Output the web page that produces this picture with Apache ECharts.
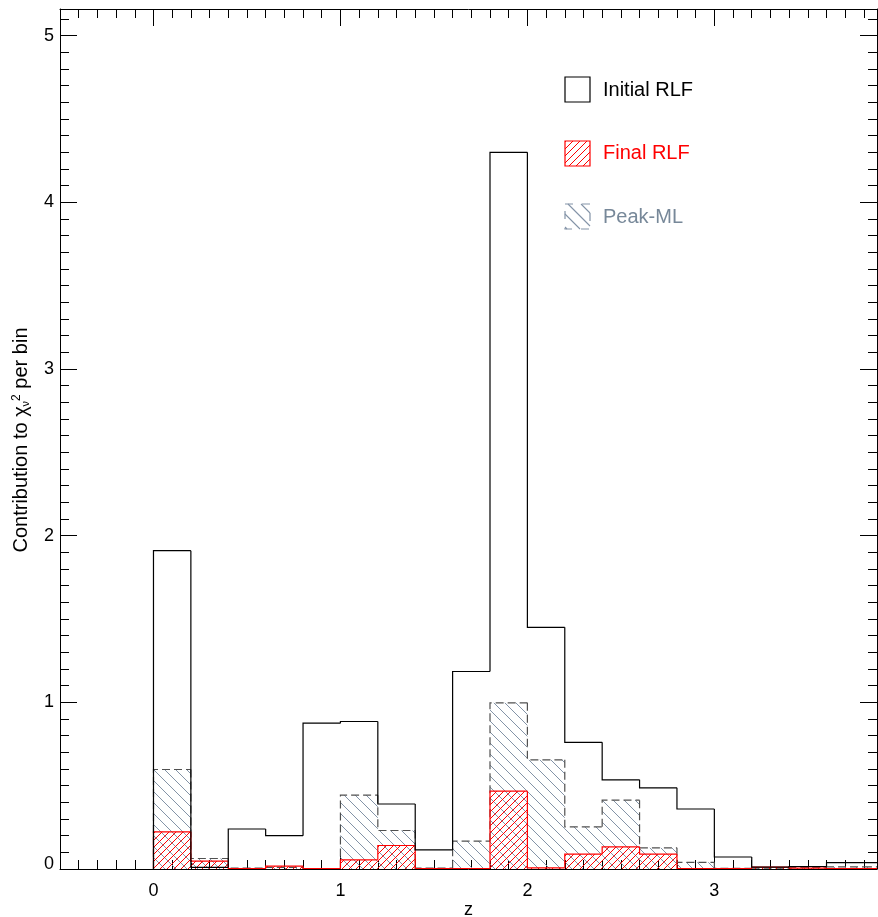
<!DOCTYPE html>
<html>
<head>
<meta charset="utf-8">
<script src="https://cdn.jsdelivr.net/npm/echarts@6/dist/echarts.min.js"></script>
<style>
  html, body { margin: 0; padding: 0; background: #fff; }
  #chart { width: 878px; height: 917px; }
</style>
</head>
<body>
<div id="chart"></div>
<script>
// Redshift bins: lower edges, each 0.2 wide
const binStarts = [0.0, 0.2, 0.4, 0.6, 0.8, 1.0, 1.2, 1.4, 1.6, 1.8,
                   2.0, 2.2, 2.4, 2.6, 2.8, 3.0, 3.2, 3.4, 3.6, 3.8];
const binWidth = 0.2;

// Contribution to reduced chi-square per bin
const initialRLF = [1.91, 0.01, 0.24, 0.20, 0.875, 0.885, 0.39, 0.115, 1.185, 4.30,
                    1.45, 0.76, 0.535, 0.487, 0.36, 0.072, 0.011, 0.015, 0.038, 0.038];
const finalRLF   = [0.223, 0.047, 0.003, 0.017, 0.003, 0.055, 0.141, 0.003, 0.003, 0.467,
                    0.007, 0.089, 0.133, 0.089, 0.003, 0.003, 0.011, 0.005, 0.003, 0.003];
const peakML     = [0.597, 0.063, 0.005, 0.010, 0.003, 0.443, 0.231, 0.005, 0.167, 0.997,
                    0.655, 0.253, 0.413, 0.127, 0.040, 0.004, 0.005, 0.010, 0.013, 0.013];

const seriesNames = ['Initial RLF', 'Final RLF', 'Peak-ML'];
const xMajorTicks = [0, 1, 2, 3];
const yMajorTicks = [0, 1, 2, 3, 4, 5];
const xRange = [-0.5, 3.87];
const yRange = [0, 5.16];

// minor ticks every 0.1 between the labelled ones
function minorTicks(lo, hi) {
  const out = [];
  for (let k = Math.ceil(lo * 10); k <= Math.floor(hi * 10); k++) {
    if (k % 10 !== 0) out.push(k / 10);
  }
  return out;
}
const xMinorTicks = minorTicks(xRange[0], xRange[1]);
const yMinorTicks = minorTicks(yRange[0], yRange[1]);

const FONT = '"Liberation Sans", Arial, Helvetica, sans-serif';
const RED = 'rgb(255,0,0)';
const SLATE = '#8393a7';
const SLATE_TEXT = '#778899';
const DASH_GREY = '#505050';

// 45-degree hatch segments inside a pixel rectangle, anchored to the canvas
// so neighbouring bins line up; '/' runs up-right, '\' runs down-right
function hatchSegments(x0, y0, x1, y1, spacing, dir) {
  const segs = [];
  if (dir === '/') {
    for (let c = Math.ceil((x0 + y0) / spacing) * spacing; c <= x1 + y1; c += spacing) {
      const xa = Math.max(x0, c - y1), xb = Math.min(x1, c - y0);
      if (xb > xa) segs.push([xa, c - xa, xb, c - xb]);
    }
  } else {
    for (let c = Math.ceil((y0 - x1) / spacing) * spacing; c <= y1 - x0; c += spacing) {
      const xa = Math.max(x0, y0 - c), xb = Math.min(x1, y1 - c);
      if (xb > xa) segs.push([xa, xa + c, xb, xb + c]);
    }
  }
  return segs;
}

// [left edge, right edge, value, previous bin value, is last bin]
function histData(values) {
  return values.map((v, i) => [
    binStarts[i], binStarts[i] + binWidth, v,
    i === 0 ? 0 : values[i - 1], i === values.length - 1 ? 1 : 0
  ]);
}

function stepRenderer(stroke, lineDash, lineWidth, hatch) {
  return function (params, api) {
    const x0 = api.value(0), x1 = api.value(1), v = api.value(2);
    const pv = api.value(3), last = api.value(4);
    const base = api.coord([x0, 0]);
    const top = api.coord([x1, v]);
    const prev = api.coord([x0, pv]);
    const children = [];
    if (hatch) {
      hatchSegments(base[0], top[1], top[0], base[1], hatch.spacing, hatch.dir).forEach(s => {
        children.push({
          type: 'line', silent: true,
          shape: { x1: s[0], y1: s[1], x2: s[2], y2: s[3] },
          style: { stroke: hatch.color, lineWidth: hatch.width, opacity: 1 }
        });
      });
    }
    const pts = [[base[0], prev[1]], [base[0], top[1]], [top[0], top[1]]];
    if (last) pts.push([top[0], base[1]]);
    children.push({
      type: 'polyline', silent: true,
      shape: { points: pts },
      style: { stroke: stroke, lineWidth: lineWidth, lineDash: lineDash, fill: null }
    });
    return { type: 'group', children: children };
  };
}

function histSeries(name, values, stroke, dash, lw, hatch, z) {
  return {
    type: 'custom', name: name, xAxisIndex: 0, yAxisIndex: 0,
    clip: true, z: z,
    encode: { x: [0, 1], y: [2, 3] },
    data: histData(values),
    renderItem: stepRenderer(stroke, dash, lw, hatch)
  };
}

const redHatch = { spacing: 7, dir: '/', color: RED, width: 1 };
const greyHatch = { spacing: 11, dir: '\\', color: SLATE, width: 1 };

function xAxisDef(grid, pos, ticks, len, withLine, withLabel) {
  return {
    type: 'value', gridIndex: grid, position: pos,
    min: xRange[0], max: xRange[1],
    splitLine: { show: false },
    axisLine: { show: withLine, onZero: false, lineStyle: { color: '#000', width: 1 } },
    axisTick: { show: true, inside: true, length: len, customValues: ticks,
                lineStyle: { color: '#000', width: 1 } },
    axisLabel: withLabel
      ? { show: true, customValues: xMajorTicks, fontSize: 18, color: '#000', fontFamily: FONT, margin: 13 }
      : { show: false }
  };
}

function yAxisDef(grid, pos, ticks, len, withLine, withLabel) {
  return {
    type: 'value', gridIndex: grid, position: pos,
    min: yRange[0], max: yRange[1],
    splitLine: { show: false },
    axisLine: { show: withLine, onZero: false, lineStyle: { color: '#000', width: 1 } },
    axisTick: { show: true, inside: true, length: len, customValues: ticks,
                lineStyle: { color: '#000', width: 1 } },
    axisLabel: withLabel
      ? {
          show: true, customValues: yMajorTicks, fontSize: 18, color: '#000', fontFamily: FONT, margin: 6,
          formatter: v => (v === 0 ? '{lo|0}' : String(v)),
          rich: { lo: { fontSize: 18, fontFamily: FONT, color: '#000', padding: [0, 0, 10, 0] } }
        }
      : { show: false }
  };
}

const graphics = [];

// axis titles
graphics.push({
  type: 'text', x: 468.5, y: 910, z: 100,
  style: { text: 'z', fill: '#000', font: '18px ' + FONT, textAlign: 'center', textVerticalAlign: 'middle' }
});
graphics.push({
  type: 'text', x: 21, y: 440, rotation: Math.PI / 2, z: 100,
  style: {
    text: '{t|Contribution to χ}{s|ν}{p|2}{t| per bin}',
    textAlign: 'center', textVerticalAlign: 'middle',
    rich: {
      t: { fontSize: 20, fontFamily: FONT, fill: '#000', lineHeight: 28, verticalAlign: 'middle' },
      s: { fontSize: 11, fontFamily: FONT, fill: '#000', lineHeight: 28, verticalAlign: 'bottom', padding: [0, 0, 4, 0] },
      p: { fontSize: 12, fontFamily: FONT, fill: '#000', lineHeight: 28, verticalAlign: 'top', padding: [4, 0, 0, 0] }
    }
  }
});

// legend rows
const legendRows = [
  { name: seriesNames[0], color: '#000', stroke: '#000', dash: null, hatch: null },
  { name: seriesNames[1], color: RED, stroke: RED, dash: null, hatch: redHatch },
  { name: seriesNames[2], color: SLATE_TEXT, stroke: SLATE, dash: [8, 9], hatch: { spacing: 13, dir: '\\', color: SLATE, width: 1.1 } }
];
legendRows.forEach((r, i) => {
  const cy = 90 + i * 63.5;
  const bx = 565, by = Math.round(cy - 13), bs = 25;
  if (r.hatch) {
    hatchSegments(bx, by, bx + bs, by + bs, r.hatch.spacing, r.hatch.dir).forEach(s => {
      graphics.push({
        type: 'line', z: 100, silent: true,
        shape: { x1: s[0], y1: s[1], x2: s[2], y2: s[3] },
        style: { stroke: r.hatch.color, lineWidth: r.hatch.width }
      });
    });
  }
  graphics.push({
    type: 'rect', z: 101, silent: true,
    shape: { x: bx, y: by, width: bs, height: bs },
    style: { fill: null, stroke: r.stroke, lineWidth: 1.2, lineDash: r.dash }
  });
  graphics.push({
    type: 'text', x: 603, y: cy, z: 100,
    style: { text: r.name, fill: r.color, font: '20px ' + FONT, textVerticalAlign: 'middle', textAlign: 'left' }
  });
});

const gridBox = { left: 60, right: 1, top: 9, bottom: 48, outerBoundsMode: 'none' };

const chart = echarts.init(document.getElementById('chart'), null, { renderer: 'canvas' });
chart.setOption({
  animation: false,
  backgroundColor: '#fff',
  grid: [Object.assign({}, gridBox), Object.assign({}, gridBox)],
  xAxis: [
    xAxisDef(0, 'bottom', xMajorTicks, 17, true, true),
    xAxisDef(0, 'top', xMajorTicks, 17, true, false),
    xAxisDef(1, 'bottom', xMinorTicks, 9, false, false),
    xAxisDef(1, 'top', xMinorTicks, 9, false, false)
  ],
  yAxis: [
    yAxisDef(0, 'left', yMajorTicks, 17, true, true),
    yAxisDef(0, 'right', yMajorTicks, 17, true, false),
    yAxisDef(1, 'left', yMinorTicks, 9, false, false),
    yAxisDef(1, 'right', yMinorTicks, 9, false, false)
  ],
  series: [
    histSeries(seriesNames[2], peakML, DASH_GREY, [8, 4], 1.2, greyHatch, 2),
    histSeries(seriesNames[1], finalRLF, RED, null, 1.2, redHatch, 3),
    histSeries(seriesNames[0], initialRLF, '#000', null, 1.2, null, 4)
  ],
  graphic: graphics
});
</script>
</body>
</html>
